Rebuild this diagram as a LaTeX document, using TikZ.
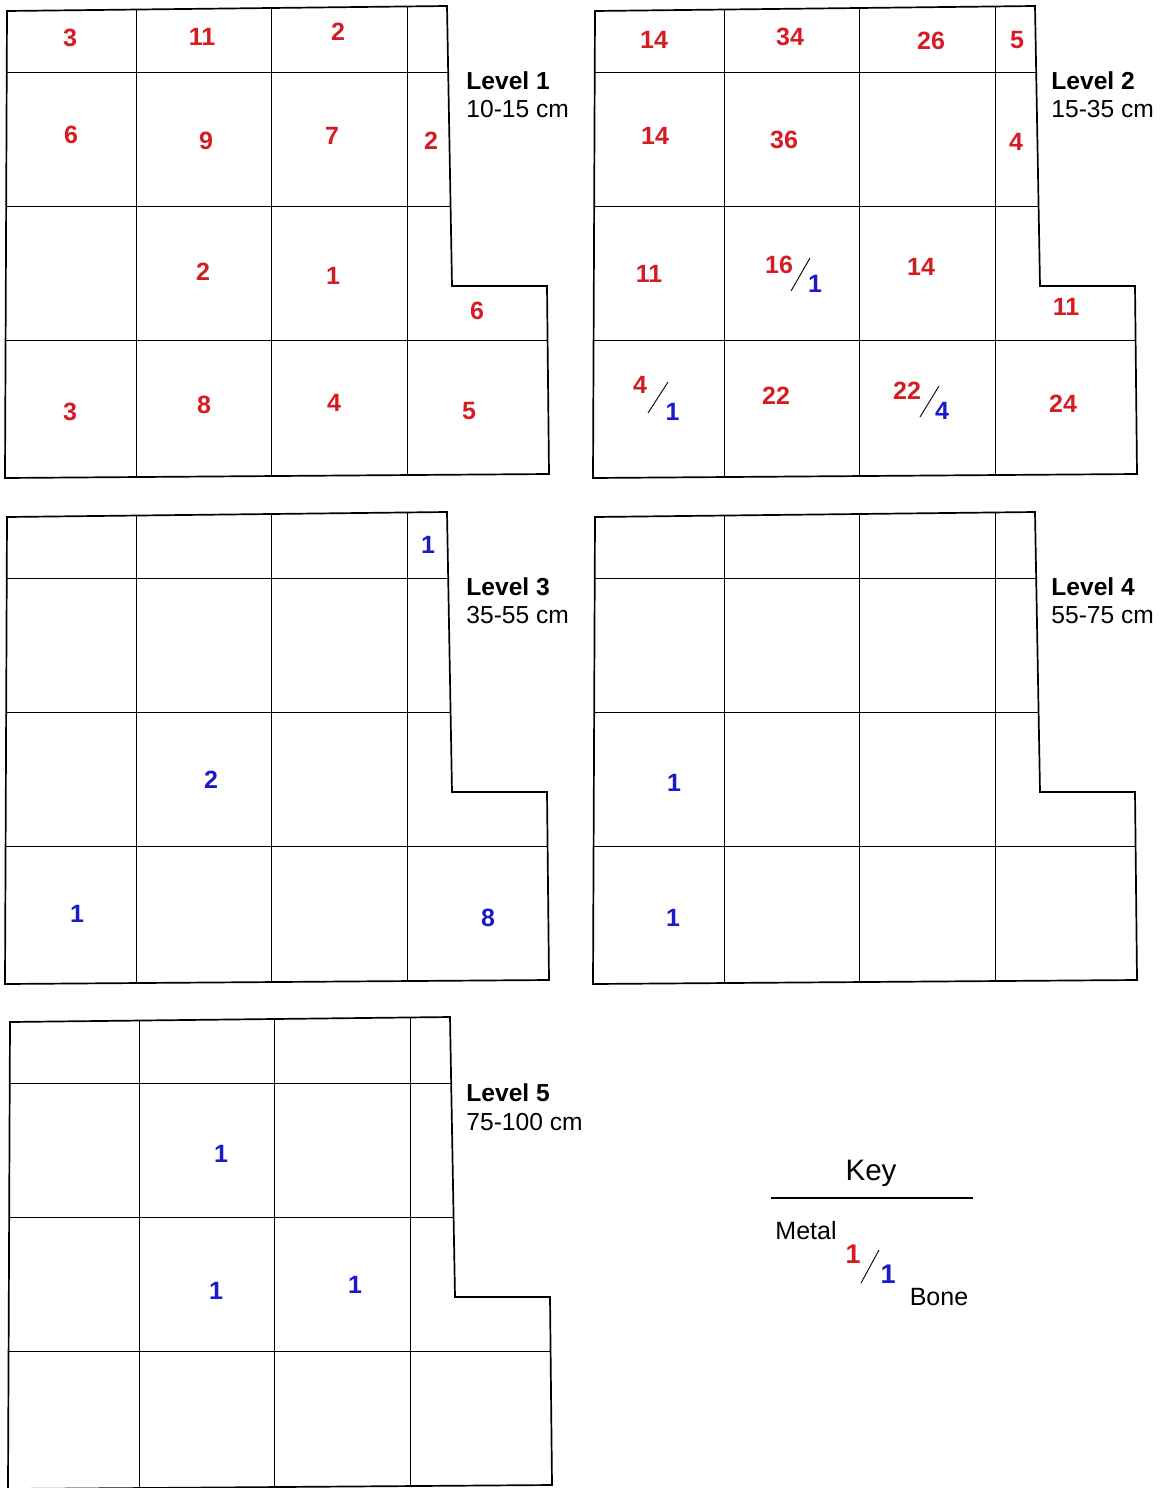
\documentclass[tikz,border=0pt]{standalone}
\usepackage{fontspec}
\setmainfont{Liberation Sans}
\definecolor{nred}{RGB}{212,28,34}
\definecolor{nblue}{RGB}{26,26,200}
\tikzset{
  outerline/.style={line width=0.85pt, black},
  innerline/.style={line width=0.5pt, black},
  num/.style={font=\fontsize{12.5}{14}\selectfont\bfseries, inner sep=0pt},
  metal/.style={num, text=nred},
  bone/.style={num, text=nblue},
  keynum/.style={font=\fontsize{13.5}{15}\selectfont\bfseries, inner sep=0pt},
  lvl/.style={font=\fontsize{12.3}{14}\selectfont\bfseries, anchor=base west, inner sep=0pt},
  dep/.style={font=\fontsize{12.3}{14}\selectfont, anchor=base west, inner sep=0pt},
  keytxt/.style={font=\fontsize{12.5}{14}\selectfont, anchor=base, inner sep=0pt},
  slashline/.style={line width=0.45pt, black},
}
\newcommand\drawpanel[2]{%
  \begin{scope}[shift={(#1,#2)}]
    \begin{scope}
      \clip (7,11) -- (447,6) -- (452,286) -- (547,286) -- (549,474) -- (5,478) -- cycle;
      \draw[innerline] (0,72) -- (560,72) (0,206) -- (560,206) (0,340) -- (560,340);
      \draw[innerline] (136,0) -- (136,490) (271,0) -- (271,490) (407,0) -- (407,490);
    \end{scope}
    \draw[outerline, line join=miter] (7,11) -- (447,6) -- (452,286) -- (547,286) -- (549,474) -- (5,478) -- cycle;
  \end{scope}}
\begin{document}
\begin{tikzpicture}[x=0.5pt,y=-0.5pt]
\useasboundingbox (0,0) rectangle (1166,1488);
\fill[white] (0,0) rectangle (1166,1488);

\drawpanel{0}{0}
\drawpanel{588}{0}
\drawpanel{0}{506}
\drawpanel{588}{506}
\drawpanel{3}{1011}

% labels
\node[lvl] (lv1) at (466,89) {Level 1};
\node[dep] (dp1) at (466,117) {10-15 cm};
\node[lvl] (lv2) at (1051,89) {Level 2};
\node[dep] (dp2) at (1051,117) {15-35 cm};
\node[lvl] (lv3) at (466,595) {Level 3};
\node[dep] (dp3) at (466,623) {35-55 cm};
\node[lvl] (lv4) at (1051,595) {Level 4};
\node[dep] (dp4) at (1051,623) {55-75 cm};
\node[lvl] (lv5) at (466,1101) {Level 5};
\node[dep] (dp5) at (466,1130) {75-100 cm};

% Level 1
\node[metal] (a1) at (70,38) {3};
\node[metal] (a2) at (202,37) {11};
\node[metal] (a3) at (338,32) {2};
\node[metal] (a4) at (71,135) {6};
\node[metal] (a5) at (206,141) {9};
\node[metal] (a6) at (332,136) {7};
\node[metal] (a7) at (431,141) {2};
\node[metal] (a8) at (203,272) {2};
\node[metal] (a9) at (333,276) {1};
\node[metal] (a10) at (477,311) {6};
\node[metal] (a11) at (70,412) {3};
\node[metal] (a12) at (204,405) {8};
\node[metal] (a13) at (334,403) {4};
\node[metal] (a14) at (469,411) {5};

% Level 2
\node[metal] (b1) at (654,40) {14};
\node[metal] (b2) at (790,37) {34};
\node[metal] (b3) at (931,41) {26};
\node[metal] (b4) at (1017,40) {5};
\node[metal] (b5) at (655,136) {14};
\node[metal] (b6) at (784,140) {36};
\node[metal] (b7) at (1016,142) {4};
\node[metal] (b8) at (649,274) {11};
\node[metal] (b9) at (779,265) {16};
\coordinate (b9s) at (791,291);
\coordinate (b9e) at (810,258);
\draw[slashline] (b9s) -- (b9e);
\node[bone] (b9b) at (815,284) {1};
\node[metal] (b10) at (921,267) {14};
\node[metal] (b11) at (1066,307) {11};
\node[metal] (b12) at (640,385) {4};
\coordinate (b12s) at (648,413);
\coordinate (b12e) at (668,382);
\draw[slashline] (b12s) -- (b12e);
\node[bone] (b12b) at (672.5,412) {1};
\node[metal] (b13) at (776,396) {22};
\node[metal] (b14) at (907,391) {22};
\coordinate (b14s) at (920,417);
\coordinate (b14e) at (939,386);
\draw[slashline] (b14s) -- (b14e);
\node[bone] (b14b) at (942,411) {4};
\node[metal] (b15) at (1063,404) {24};

% Level 3
\node[bone] (c1) at (428,545) {1};
\node[bone] (c2) at (211,780) {2};
\node[bone] (c3) at (77,914) {1};
\node[bone] (c4) at (488,918) {8};

% Level 4
\node[bone] (d1) at (674,783) {1};
\node[bone] (d2) at (673,918) {1};

% Level 5
\node[bone] (e1) at (221,1154) {1};
\node[bone] (e2) at (216,1291) {1};
\node[bone] (e3) at (355,1285) {1};

% Key
\node[keytxt, font=\fontsize{14.8}{16}\selectfont] (key) at (871,1180) {Key};
\coordinate (kl1) at (771,1198);
\coordinate (kl2) at (973,1198);
\draw[line width=0.6pt] (kl1) -- (kl2);
\node[keytxt] (metaltxt) at (806,1239) {Metal};
\node[keynum, text=nred] (km) at (853,1254) {1};
\coordinate (ks) at (861,1283);
\coordinate (ke) at (879,1250);
\draw[slashline] (ks) -- (ke);
\node[keynum, text=nblue] (kb) at (888,1274) {1};
\node[keytxt] (bonetxt) at (939,1305) {Bone};
\end{tikzpicture}
\end{document}
